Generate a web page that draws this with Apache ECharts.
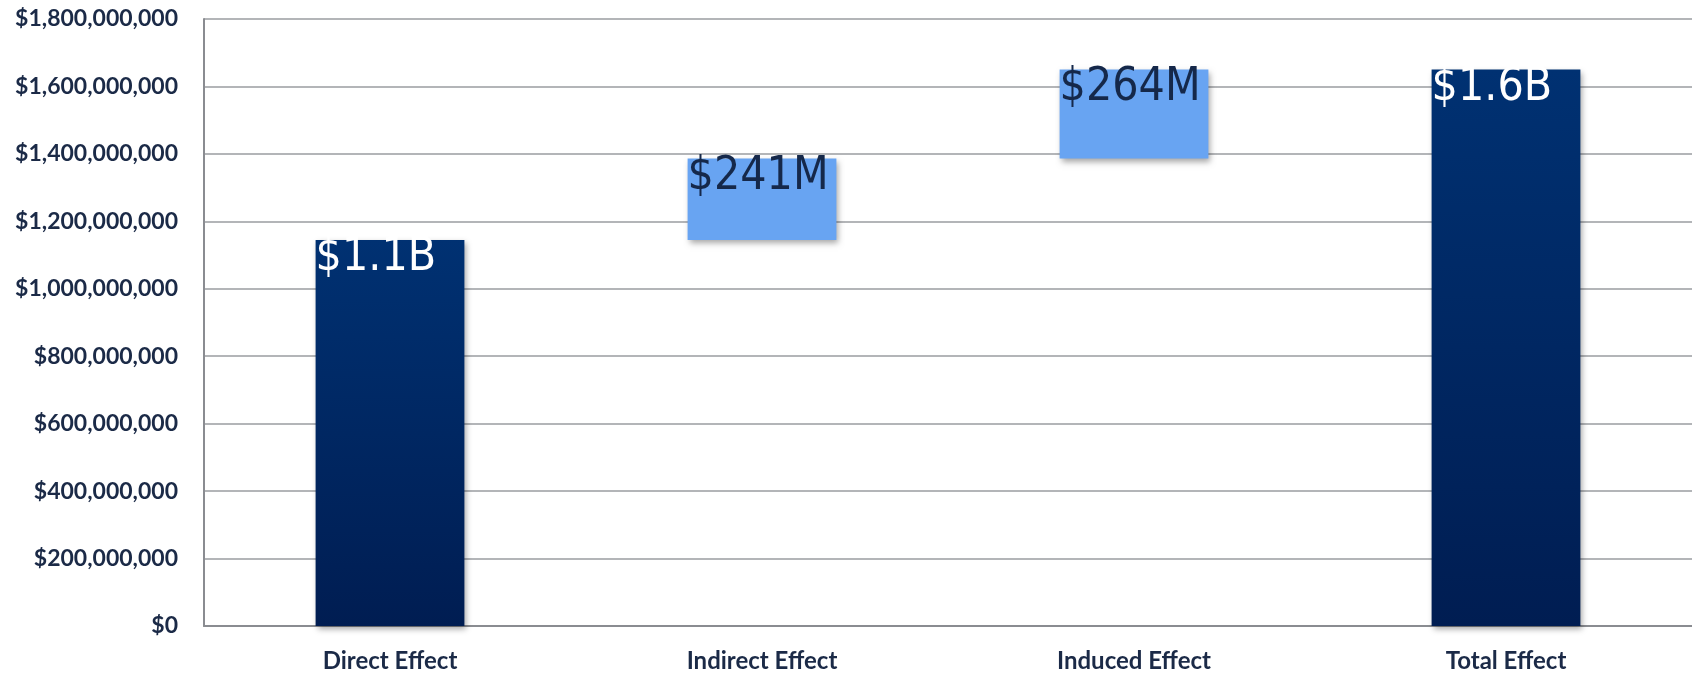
<!DOCTYPE html>
<html>
<head>
<meta charset="utf-8">
<script src="https://cdn.jsdelivr.net/npm/echarts@6/dist/echarts.min.js"></script>
<style>
  html, body { margin: 0; padding: 0; background: #fff; }
  #chart { width: 1692px; height: 674px; }
</style>
</head>
<body>
<div id="chart"></div>
<script>
const categories = ['Direct Effect', 'Indirect Effect', 'Induced Effect', 'Total Effect'];
// invisible base under each floating bar
const baseValues = [0, 1145000000, 1386000000, 0];
const effectValues = [1145000000, 241000000, 264000000, 1650000000];
const valueLabels = ['$1.1B', '$241M', '$264M', '$1.6B'];
const isTotal = [true, false, false, true];

const chart = echarts.init(document.getElementById('chart'));

const darkBar = new echarts.graphic.LinearGradient(0, 0, 0, 1, [
  { offset: 0, color: '#003172' },
  { offset: 1, color: '#001d52' }
]);

const formatMoney = (v) => '$' + v.toLocaleString('en-US');

const options = {
  animation: false,
  grid: { left: 204, right: 0, top: 19, bottom: 48 },
  xAxis: {
    type: 'category',
    data: categories,
    axisLine: { lineStyle: { color: '#8a8c91', width: 2 } },
    axisTick: { show: false },
    axisLabel: {
      margin: 23,
      fontSize: 24,
      fontWeight: 'bold',
      fontFamily: 'Lato',
      color: '#1b2a47'
    }
  },
  yAxis: {
    type: 'value',
    min: 0,
    max: 1800000000,
    interval: 200000000,
    axisLine: { show: true, lineStyle: { color: '#8a8c91', width: 2 } },
    axisTick: { show: false },
    splitLine: { lineStyle: { color: '#9a9ca1', width: 1.5 } },
    axisLabel: {
      margin: 26,
      fontSize: 23,
      fontWeight: 'bold',
      fontFamily: 'Lato',
      color: '#1b2a47',
      formatter: formatMoney
    }
  },
  series: [
    {
      name: 'base',
      type: 'bar',
      stack: 'tot',
      barWidth: '40%',
      itemStyle: { color: 'transparent' },
      data: baseValues,
      silent: true
    },
    {
      name: 'effect',
      type: 'bar',
      stack: 'tot',
      barWidth: '40%',
      data: effectValues.map((v, i) => ({
        value: v,
        itemStyle: {
          color: isTotal[i] ? darkBar : '#68a4f2',
          shadowColor: 'rgba(0,0,0,0.35)',
          shadowBlur: 6,
          shadowOffsetX: 2,
          shadowOffsetY: 3
        },
        label: {
          color: isTotal[i] ? '#ffffff' : '#15284a'
        }
      })),
      label: {
        show: true,
        position: 'insideTopLeft',
        distance: 0,
        offset: [0, -5],
        fontSize: 46,
        fontWeight: 300,
        fontFamily: "'Liberation Sans Narrow', 'DejaVu Sans Condensed', 'Roboto Condensed', Roboto, sans-serif",
        formatter: (p) => valueLabels[p.dataIndex]
      }
    }
  ]
};

chart.setOption(options);
</script>
</body>
</html>
